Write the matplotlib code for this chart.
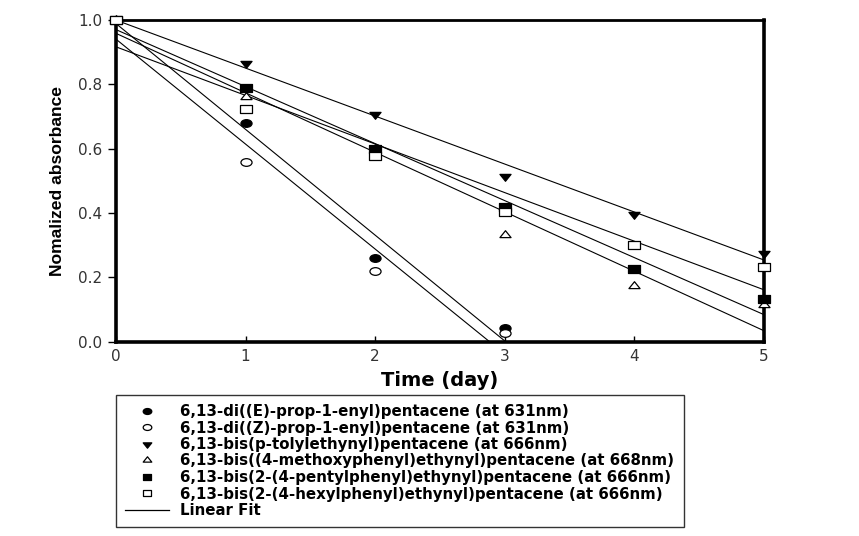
import numpy as np
import matplotlib
matplotlib.use("Agg")
import matplotlib.pyplot as plt
from matplotlib.path import Path
from matplotlib.lines import Line2D

# values
days_short = [0, 1, 2, 3]
days_long = [0, 1, 2, 3, 4, 5]

e_prop = [1.0, 0.68, 0.26, 0.044]
z_prop = [1.0, 0.56, 0.22, 0.026]
tolyl = [1.0, 0.867, 0.707, 0.516, 0.396, 0.277]
methoxy = [1.0, 0.762, 0.60, 0.332, 0.173, 0.113]
pentyl = [1.0, 0.788, 0.598, 0.42, 0.227, 0.132]
hexyl = [1.0, 0.724, 0.577, 0.403, 0.30, 0.232]

labels = [
    "6,13-di((E)-prop-1-enyl)pentacene (at 631nm)",
    "6,13-di((Z)-prop-1-enyl)pentacene (at 631nm)",
    "6,13-bis(p-tolylethynyl)pentacene (at 666nm)",
    "6,13-bis((4-methoxyphenyl)ethynyl)pentacene (at 668nm)",
    "6,13-bis(2-(4-pentylphenyl)ethynyl)pentacene (at 666nm)",
    "6,13-bis(2-(4-hexylphenyl)ethynyl)pentacene (at 666nm)",
]
x_ticks = [0, 1, 2, 3, 4, 5]
y_ticks = [0.0, 0.2, 0.4, 0.6, 0.8, 1.0]


def wide(path, sx=1.45):
    # markers in the reference look horizontally stretched
    v = path.vertices.copy()
    v[:, 0] *= sx
    return Path(v, path.codes)


circle = wide(Path.unit_circle())
tri_down = wide(Path([(-1, 0.55), (1, 0.55), (0, -1.25), (-1, 0.55)], closed=True))
tri_up = wide(Path([(-1, -0.55), (1, -0.55), (0, 1.25), (-1, -0.55)], closed=True))
square = wide(Path([(-1, -1), (1, -1), (1, 1), (-1, 1), (-1, -1)], closed=True), 1.4)

series = [
    (days_short, e_prop, circle, "black"),
    (days_short, z_prop, circle, "white"),
    (days_long, tolyl, tri_down, "black"),
    (days_long, methoxy, tri_up, "white"),
    (days_long, pentyl, square, "black"),
    (days_long, hexyl, square, "white"),
]

fig = plt.figure(figsize=(8.59, 5.36), dpi=100)
ax = fig.add_axes([0.135, 0.3625, 0.754, 0.600])

handles = []
for (x, y, mk, face), lab in zip(series, labels):
    slope, icpt = np.polyfit(x, y, 1)
    xf = np.array([0, x[-1]])
    ax.plot(xf, icpt + slope * xf, color="black", lw=0.8, zorder=2)
for (x, y, mk, face), lab in zip(series, labels):
    ax.plot(x, y, ls="none", marker=mk, ms=8, mfc=face, mec="black",
            mew=0.9, clip_on=False, zorder=5)
    handles.append(Line2D([], [], ls="none", marker=mk, ms=6.2, mfc=face,
                          mec="black", mew=0.9))
handles.append(Line2D([], [], color="black", lw=0.9))

ax.set_xlim(0, 5)
ax.set_ylim(0, 1.0)
ax.set_xticks(x_ticks)
ax.set_yticks(y_ticks)
ax.set_xticklabels([str(t) for t in x_ticks])
ax.set_yticklabels([f"{t:.1f}" for t in y_ticks])
for s in ["left", "bottom", "right"]:
    ax.spines[s].set_linewidth(2.6)
ax.spines["top"].set_linewidth(2.0)
ax.tick_params(axis="y", direction="out", length=6, width=1, pad=4,
               labelsize=11, labelcolor="#333333")
ax.tick_params(axis="x", direction="in", length=4, width=1, pad=5,
               labelsize=11, labelcolor="#333333")

fig.text(440 / 859, 1 - 380 / 536, "Time (day)", ha="center", va="center",
         fontsize=14, fontweight="bold")
fig.text(58 / 859, 1 - 181 / 536, "Nomalized absorbance", rotation=90,
         ha="center", va="center", fontsize=12.6, fontweight="bold",
         family=["Liberation Sans", "DejaVu Sans"])

leg = fig.legend(handles, labels + ["Linear Fit"],
                 loc="upper left", bbox_to_anchor=(116 / 859, 1 - 395 / 536),
                 frameon=True, fancybox=False, edgecolor="black",
                 prop={"weight": "bold", "size": 10.8},
                 handlelength=2.9, handletextpad=0.8, labelspacing=0.1,
                 borderpad=0.6, borderaxespad=0, numpoints=1)
leg.get_frame().set_linewidth(1.0)

fig.savefig("out.png", dpi=100)
